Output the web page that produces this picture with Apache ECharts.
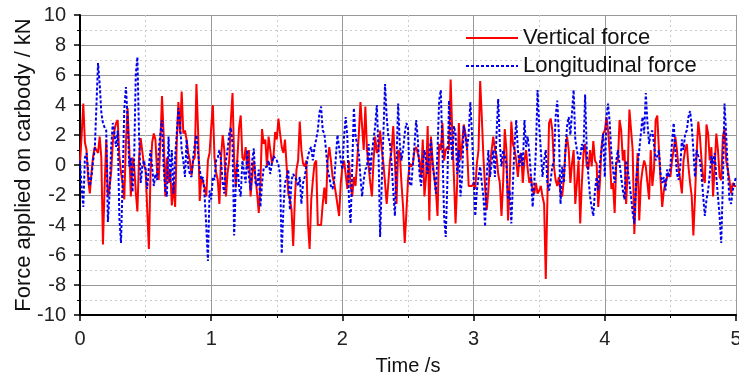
<!DOCTYPE html>
<html>
<head>
<meta charset="utf-8">
<script src="https://cdn.jsdelivr.net/npm/echarts@6/dist/echarts.min.js"></script>
<style>
  html, body { margin: 0; padding: 0; background: #fff; }
  #forceChart { width: 739px; height: 378px; }
</style>
</head>
<body>
<div id="forceChart"></div>
<script>
// sampling step of the recorded signals (s)
var timeStep = 0.0125;

var seriesNames = ['Vertical force', 'Longitudinal force'];

// vertical force, kN
var verticalForce = [
	0.1, 2.0, 4.1, 1.5, 1.0, -1.0, -1.9, -0.5, 0.6, 1.2,
	1.1, 0.8, 1.9, 0.5, -5.3, -1.5, 1.7, -2.1, -1.5, -0.5,
	1.5, 2.3, 2.8, 3.0, 0.6, -0.5, -1.2, -2.3, 1.5, 3.8,
	1.2, -2.1, 0.5, 0.0, -1.8, -3.1, 0.5, 1.8, 1.9, 0.0,
	-0.3, -3.0, -5.6, -0.5, 1.5, 2.1, 1.7, -0.5, -1.0, 1.5,
	4.6, 2.0, -2.1, 0.5, -1.2, -0.3, -2.7, -1.2, -2.8, 1.5,
	4.2, 2.1, 4.9, 2.1, 2.3, 1.7, 0.8, 0.3, -0.7, 0.3,
	0.5, 5.4, 2.3, -2.4, -0.8, -0.8, -1.5, -2.1, 0.3, 0.8,
	2.5, 4.0, 0.5, -0.5, -1.0, -2.6, 0.5, 2.0, 1.0, -2.1,
	-0.5, 0.3, 3.0, 4.8, 0.3, -1.5, 0.5, 2.5, 3.3, 0.5,
	0.3, 1.2, -0.3, 1.0, -2.1, -0.8, 0.3, -0.8, -1.9, -3.2,
	-1.2, 2.4, 1.4, 1.7, -0.1, 1.9, 1.0, 0.1, 0.6, 2.2,
	1.7, 3.1, 2.1, 1.2, 0.8, 1.7, -0.1, -1.9, -2.3, -3.0,
	-5.4, -2.3, -0.3, 0.3, 2.9, 1.0, 0.1, -0.1, 0.3, -3.9,
	-5.6, -2.3, -1.0, 0.1, 0.3, -4.0, -4.0, -4.0, -2.6, -1.5,
	-2.6, 0.3, 1.2, 0.3, -0.8, -1.2, -1.9, -1.9, -3.4, -1.2,
	-0.1, 0.3, -0.6, -1.6, 0.3, -1.4, -2.1, -0.8, -1.4, 0.3,
	2.0, 4.2, 4.2, 1.0, 3.9, 1.0, -0.1, -1.2, -2.1, 0.3,
	1.9, 0.8, 1.0, 2.3, 1.0, 0.1, -1.2, -2.6, -1.2, 0.3,
	1.0, 2.6, 0.3, -2.6, 1.0, 0.8, -1.2, -2.8, -5.2, -3.2,
	-1.0, 0.1, -0.1, 0.1, 1.0, 1.2, 1.2, 0.3, -0.8, 1.7,
	-2.1, -0.8, 2.6, -3.7, 1.9, 0.3, -0.8, -1.7, -3.4, 1.4,
	1.0, 2.8, 0.3, 1.0, 1.2, 1.0, 5.7, 2.1, -0.8, -3.9,
	-1.2, 2.8, 0.3, 1.4, 2.7, 2.1, 1.2, -1.4, -1.3, -1.4,
	-1.2, -1.6, 0.1, 1.0, 5.6, 3.2, 0.5, -1.5, -3.0, -1.7,
	0.1, 1.0, 1.9, 1.0, 0.6, -0.6, -1.2, -3.4, -1.2, 2.4,
	1.0, -3.7, -1.2, 2.9, 1.4, 1.0, 0.3, -0.8, 0.6, 0.8,
	-1.2, 0.3, 1.0, -0.3, -1.2, -0.8, -1.7, -1.9, -1.2, -1.9,
	-1.7, -1.4, -2.1, -2.6, -7.6, -2.3, 2.8, 3.1, 2.3, -0.1,
	-1.0, -1.4, -0.8, -1.9, -2.1, -1.0, 1.0, 1.9, 1.0, -1.2,
	0.1, 1.0, -2.6, -1.2, 0.3, -3.9, -1.2, 0.8, 1.4, -0.1,
	-0.3, 1.0, -0.1, 1.6, 0.3, 0.1, -2.8, -1.2, 1.2, 2.1,
	2.3, 3.2, 2.3, 0.8, -1.6, -1.2, -3.2, 0.1, 0.3, 3.0,
	2.3, 0.3, 1.0, -2.6, -0.3, 3.7, 3.8, 1.0, -4.6, -1.7,
	0.8, -3.7, -1.2, -0.3, 0.3, -0.1, -1.2, -2.3, 1.0, -1.4,
	-0.3, 3.0, 3.3, 1.0, -1.0, -2.8, -1.7, -1.2, -0.8, -0.6,
	-0.8, 0.3, 1.0, 1.9, 1.0, -0.3, -1.0, -1.9, 0.3, 1.0,
	1.4, -0.1, -1.2, -2.1, -4.7, -2.1, 0.8, 2.9, 1.9, 0.3,
	-0.8, -1.2, 2.7, 2.1, 0.3, 1.2, -2.1, -0.1, 2.1, 1.0,
	-0.8, -1.0, 1.9, 2.4, 0.3, -0.3, -1.0, -1.9, -1.2, -1.4,
	-1.4
];

// longitudinal force, kN
var longitudinalForce = [
	0.3, -1.5, -2.8, 0.5, 0.8, -0.5, -1.4, -0.8, 0.3, 1.0,
	1.0, 6.8, 5.4, 3.5, 2.8, 2.5, 2.3, -3.8, -2.0, 1.2,
	2.8, 2.1, 1.2, 2.3, -3.5, -5.2, -1.0, 3.7, 5.2, 3.2,
	-0.1, 0.5, -1.8, 0.3, 6.0, 7.2, 2.0, -1.2, -0.1, 0.3,
	-0.3, -1.6, -0.1, 1.0, -0.1, -1.4, -0.6, -1.0, 1.0, 2.1,
	3.0, -0.1, -1.7, -2.1, 1.9, -1.2, 1.0, -1.9, 0.5, 2.1,
	3.8, 2.8, 1.0, 0.3, -0.8, 1.7, -0.1, -0.6, -0.8, 0.5,
	1.4, 2.0, 0.8, -0.3, -1.0, -0.8, -2.1, -4.1, -6.4, -1.7,
	-2.3, -0.8, -1.0, 0.3, 0.5, 1.0, 0.3, -1.2, -1.9, 0.3,
	1.0, 2.1, 2.5, 1.4, -4.7, -1.2, 0.3, -1.5, -2.1, 0.3,
	0.3, -1.2, 1.0, -0.8, -1.7, 0.3, 1.1, -1.2, -1.4, -0.3,
	-2.8, -1.2, -0.2, -0.3, -0.1, 0.3, -0.6, 0.1, 0.6, 0.6,
	0.3, 0.0, -0.6, -5.9, -3.0, -1.2, -0.8, -0.3, -3.0, -1.0,
	-0.6, -0.7, -1.0, -1.4, -0.8, -2.6, -1.2, -0.8, -0.1, 0.6,
	1.0, 1.2, 0.3, 1.2, 1.7, 2.3, 3.5, 3.9, 2.3, 2.1,
	1.0, -0.3, -0.8, -1.4, -1.6, -1.0, 0.5, 2.0, 2.1, 0.3,
	-0.3, 1.9, 3.2, 1.9, -2.3, -3.9, -0.1, 3.8, 1.9, 1.4,
	0.8, -0.8, -2.1, -1.0, -0.3, -0.1, 1.4, -0.6, 0.8, 1.7,
	2.6, 4.0, 1.0, -4.8, -1.2, 2.1, 5.4, 3.2, 1.9, 1.4,
	0.1, -1.7, -3.4, 0.3, 4.1, 1.4, 0.3, 1.0, 2.1, 2.8,
	2.5, -1.2, -1.4, 0.1, 1.4, 3.0, 1.7, -0.6, -1.4, 0.1,
	1.0, 0.3, -0.6, 0.8, 1.7, -0.1, -0.8, -1.9, 1.0, 4.3,
	5.0, 1.0, -3.4, -4.8, -1.2, 4.3, 1.9, 0.3, 2.6, 2.1,
	-0.6, 1.0, -2.1, -0.8, 2.6, 1.9, 1.0, 2.1, 4.2, 2.1,
	-0.8, -3.4, -1.7, -0.8, -0.1, -1.2, -2.1, -4.1, -0.8, 1.0,
	-0.8, 0.1, 1.0, -0.8, 2.1, 4.4, 1.4, -0.1, 1.0, 0.6,
	0.1, -2.3, -1.7, -3.9, -1.2, 1.4, 3.0, 1.0, -0.1, 0.8,
	-0.1, 3.0, 1.2, 1.9, 0.8, -0.8, -2.8, -1.2, 1.0, 5.0,
	2.6, 1.0, -0.8, 0.3, 1.0, -1.2, -1.7, -1.0, -0.1, 0.3,
	3.2, 4.3, 2.1, -2.6, -0.1, -1.2, 1.0, 2.6, 3.2, 2.0,
	2.0, 5.0, 1.7, 1.0, 0.3, 0.5, 1.4, 1.0, 4.7, 1.0,
	-0.8, -2.1, -2.8, -3.4, -1.7, -0.8, -1.7, 0.1, 1.0, 2.1,
	-0.8, 3.2, 4.1, 2.8, 0.8, -0.3, -1.2, 0.3, 1.0, 0.1,
	-0.8, -1.7, -2.3, 0.3, -0.3, -1.2, -2.1, -3.2, -3.9, -1.2,
	-0.1, 1.0, 2.1, 3.2, 2.1, 4.8, 2.8, 1.4, 2.1, 2.3,
	1.4, 0.3, 0.6, 1.0, -0.6, -1.2, -0.8, -1.7, -0.3, -0.8,
	-0.1, 1.5, 2.8, 1.0, -0.6, -1.0, -0.1, 1.7, 1.0, 2.1,
	2.3, 3.2, 3.6, 2.6, 1.0, -0.8, 1.0, 0.6, 0.3, -0.6,
	-2.1, -3.4, -2.3, -1.7, -0.6, 0.6, 0.1, 0.8, -0.8, -2.1,
	-3.4, -5.2, -1.2, 4.1, 2.0, -0.3, -2.3, -2.6, -1.7, -1.2,
	-0.8
];

var toPoints = function(values){
	return values.map(function(v, i){ return [+(i * timeStep).toFixed(4), v]; });
};

var fontName = "'Liberation Sans', Arial, sans-serif";

var forceChart = echarts.init(document.getElementById('forceChart'));
var option = {
	animation: false,
	textStyle: { fontFamily: fontName },
	grid: { left: 80, right: 3, top: 15, bottom: 63, containLabel: false, outerBoundsMode: 'none' },
	legend: {
		orient: 'vertical',
		left: 460,
		top: 22,
		itemWidth: 52,
		itemHeight: 14,
		itemGap: 6,
		data: seriesNames,
		itemStyle: { opacity: 0 },
		textStyle: { fontSize: 22, color: '#111', fontFamily: fontName }
	},
	xAxis: {
		type: 'value',
		min: 0,
		max: 5,
		interval: 1,
		name: 'Time /s',
		nameLocation: 'middle',
		nameGap: 41,
		nameMoveOverlap: false,
		nameTextStyle: { fontSize: 20, color: '#111' },
		axisLine: { onZero: false, lineStyle: { color: '#000', width: 2 } },
		axisTick: { length: 6, lineStyle: { color: '#000', width: 1.5 } },
		minorTick: { show: true, splitNumber: 2, length: 3, lineStyle: { color: '#000' } },
		axisLabel: { fontSize: 20, color: '#222', margin: 14 },
		splitLine: { show: true, lineStyle: { color: '#999', width: 1 } },
		minorSplitLine: { show: true, lineStyle: { color: '#ccc', type: [2, 3], width: 1 } }
	},
	yAxis: {
		type: 'value',
		min: -10,
		max: 10,
		interval: 2,
		name: 'Force applied on carbody / kN',
		nameLocation: 'middle',
		nameGap: 45,
		nameMoveOverlap: false,
		nameTextStyle: { fontSize: 22, color: '#111' },
		axisLine: { show: true, lineStyle: { color: '#000', width: 2 } },
		axisTick: { show: true, length: 6, lineStyle: { color: '#000', width: 1.5 } },
		minorTick: { show: true, splitNumber: 2, length: 3, lineStyle: { color: '#000' } },
		axisLabel: { fontSize: 20, color: '#222', margin: 14 },
		splitLine: { show: true, lineStyle: { color: '#999', width: 1 } },
		minorSplitLine: { show: true, lineStyle: { color: '#ccc', type: [2, 3], width: 1 } }
	},
	series: [
		{
			name: seriesNames[0],
			type: 'line',
			symbol: 'none',
			lineStyle: { color: '#ff0000', width: 2 },
			itemStyle: { color: '#ff0000' },
			data: toPoints(verticalForce)
		},
		{
			name: seriesNames[1],
			type: 'line',
			symbol: 'none',
			lineStyle: { color: '#0000ee', width: 2, type: [3, 2] },
			itemStyle: { color: '#0000ee' },
			data: toPoints(longitudinalForce)
		}
	]
};
forceChart.setOption(option);
</script>
</body>
</html>
